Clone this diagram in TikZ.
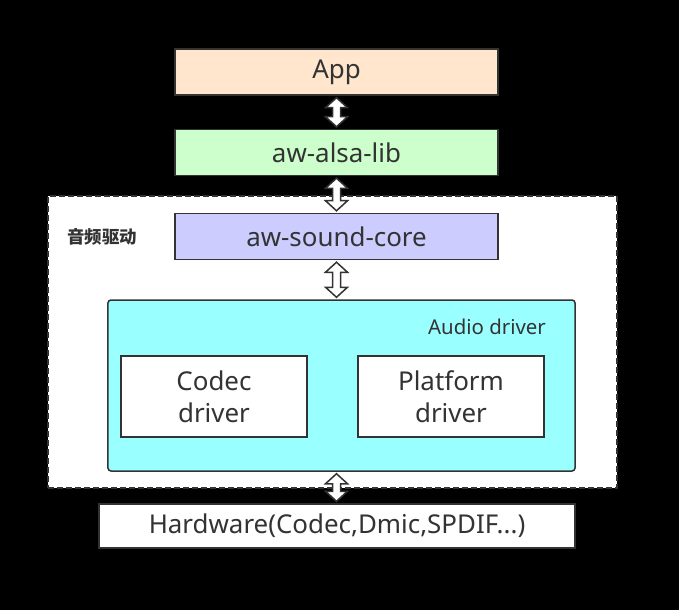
\documentclass[tikz,border=0pt]{standalone}
\usepackage{fontspec}
\setmainfont{Noto Sans}
\newfontfamily\cjk{Noto Sans CJK SC}
\usetikzlibrary{calc}
\definecolor{ink}{HTML}{333333}
\definecolor{appc}{HTML}{FFE6CC}
\definecolor{libc}{HTML}{CCFFCC}
\definecolor{corec}{HTML}{CCCCFF}
\definecolor{audc}{HTML}{99FFFF}
\tikzset{
  layer/.style={draw=ink, line width=1.5bp, text=ink, minimum width=323bp, minimum height=46bp, inner sep=0pt, font=\fontsize{26}{30}\selectfont},
  inbox/.style={draw=ink, line width=1.5bp, fill=white, text=ink, minimum width=186bp, minimum height=81bp, inner sep=0pt, align=center, font=\fontsize{26}{32}\selectfont},
  dblarrow/.style={draw=ink, line width=1.5bp, fill=white, line join=miter},
}
% #1: node giving the x, #2: upper node, #3: lower node
\newcommand{\updown}[3]{%
  \draw[dblarrow] ($(#1.south |- #2.south)+(0,2)$) -- ++(11,10) -- ++(-7,0) |- ($(#1.south |- #3.north)+(4,-12)$) -- ++(7,0) -- ($(#1.south |- #3.north)+(0,-2)$) -- ++(-11,-10) -- ++(7,0) |- ($(#1.south |- #2.south)+(-4,12)$) -- ++(-7,0) -- cycle;}
\begin{document}
\begin{tikzpicture}[x=1bp,y=-1bp]
\fill[black] (0,0) rectangle (679,610);
\useasboundingbox (0,0) rectangle (679,610);
% container
\node[draw=ink, line width=1.5bp, dash pattern=on 6bp off 3bp, fill=white, minimum width=569bp, minimum height=292bp, inner sep=0pt] (cont) at (332.5,342) {};
\node[text=ink, font=\cjk\bfseries\fontsize{17.5}{19}\selectfont, inner sep=0pt] (lbl) at (102,237) {音频驱动};
\node[layer, fill=appc] (app) at (336.5,72) {App};
\node[layer, fill=libc] (lib) at (336.5,152.5) {aw-alsa-lib};
\node[layer, fill=corec] (core) at (336.5,236.5) {aw-sound-core};
\node[draw=ink, line width=1.5bp, fill=audc, rounded corners=3bp, minimum width=467bp, minimum height=171bp, inner sep=0pt] (aud) at (341.5,385.5) {};
\node[text=ink, font=\fontsize{20.5}{24}\selectfont, inner sep=0pt] (audl) at (487,327) {Audio driver};
\node[inbox] (codec) at (214,396.5) {Codec\\driver};
\node[inbox] (plat) at (451,396.5) {Platform\\driver};
\node[layer, fill=white, minimum width=476bp, minimum height=44bp] (hw) at (337,526) {Hardware(Codec,Dmic,SPDIF...)};
\updown{app}{app}{lib}
\updown{app}{lib}{core}
\updown{app}{core}{aud}
\updown{app}{aud}{hw}
\end{tikzpicture}
\end{document}
